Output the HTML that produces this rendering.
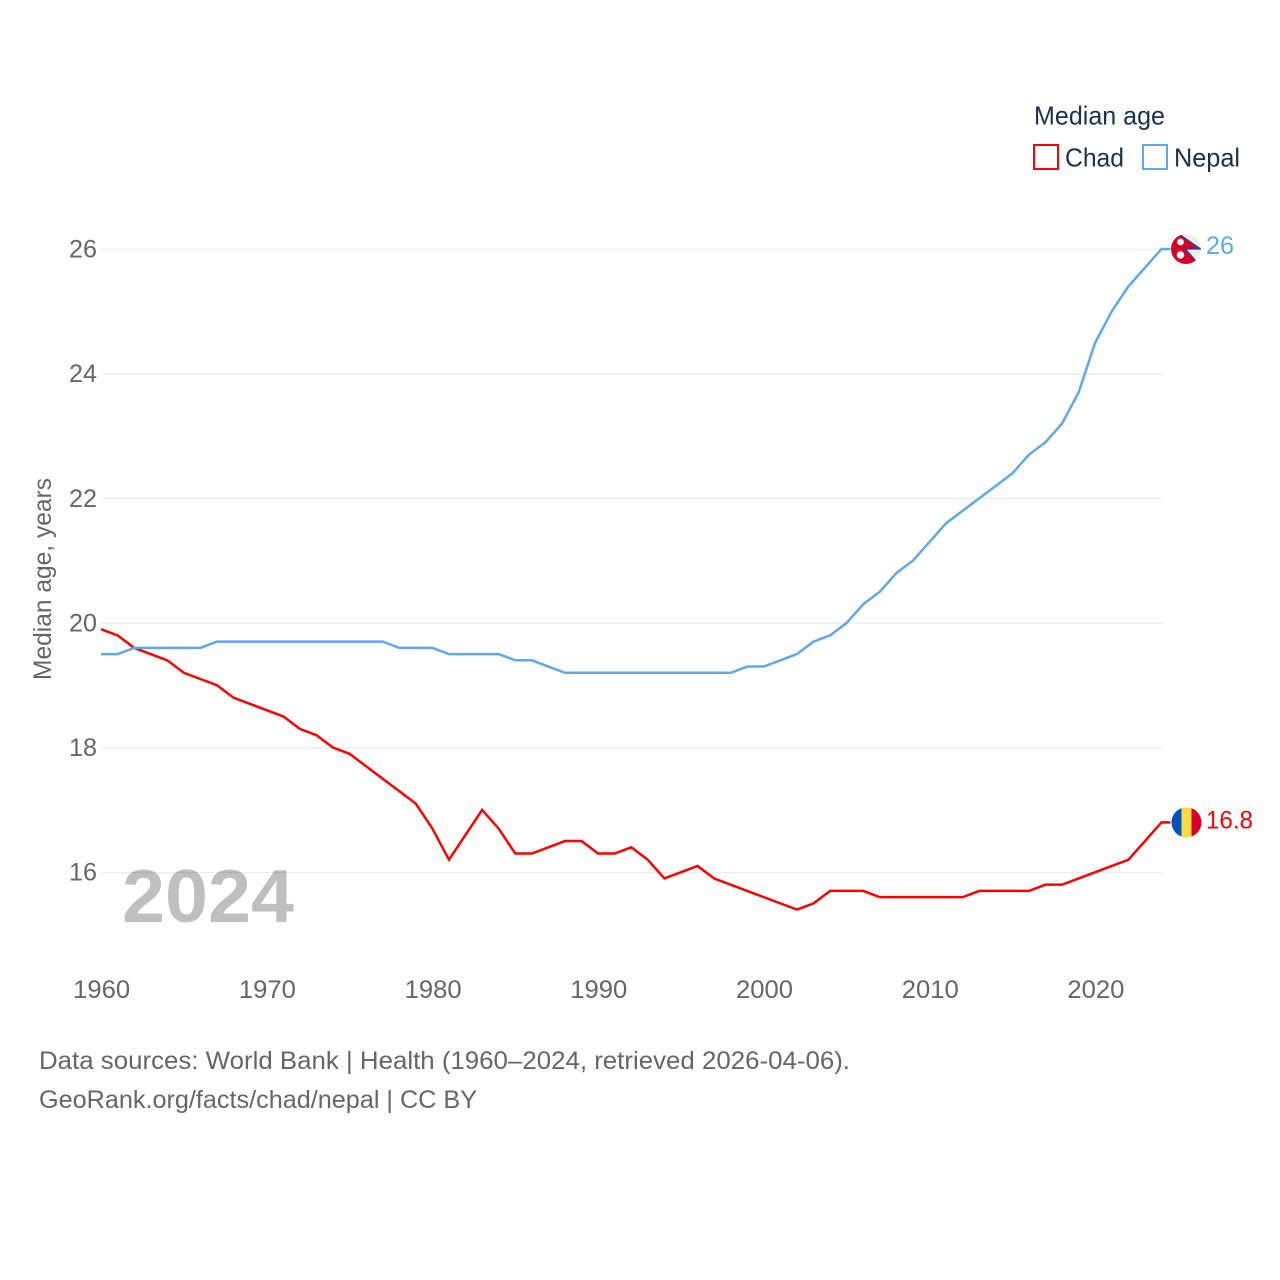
<!DOCTYPE html>
<html lang="en">
<head>
<meta charset="utf-8">
<title>Median age: Chad and Nepal</title>
<style>
html,body{margin:0;padding:0;background:#fff;width:1280px;height:1280px;overflow:hidden}
svg{display:block}
text{font-family:"Liberation Sans",sans-serif}
.tick{font-size:25px;fill:#666}
.legend{font-size:26px;fill:#1a3050}
.src{font-size:25px;fill:#666}
</style>
</head>
<body>
<svg id="chart" xmlns="http://www.w3.org/2000/svg" width="1280" height="1280" viewBox="0 0 1280 1280">
  <defs>
    <clipPath id="flag-clip"><circle cx="0" cy="0" r="15"></circle></clipPath>
  </defs>
  <g id="grid"></g>
  <text x="122" y="922" font-size="75" font-weight="700" fill="#000" fill-opacity="0.25" textLength="172" lengthAdjust="spacingAndGlyphs">2024</text>
  <g id="y-axis"></g>
  <g id="x-axis"></g>
  <text class="tick" transform="translate(51,680) rotate(-90)" textLength="202" lengthAdjust="spacingAndGlyphs">Median age, years</text>
  <g id="series"></g>
  <g id="ends"></g>

  <g>
    <text class="legend" x="1034" y="124.5" textLength="131" lengthAdjust="spacingAndGlyphs">Median age</text>
    <g>
      <rect x="1034" y="145" width="24" height="24" fill="#fff" stroke="#ff0000" stroke-width="2"></rect>
      <text class="legend" x="1065" y="166.5" textLength="59" lengthAdjust="spacingAndGlyphs">Chad</text>
    </g>
    <g>
      <rect x="1143" y="145" width="24" height="24" fill="#fff" stroke="#5fa8ee" stroke-width="2"></rect>
      <text class="legend" x="1174" y="166.5" textLength="66" lengthAdjust="spacingAndGlyphs">Nepal</text>
    </g>
  </g>

  <g>
    <text class="src" x="39" y="1069" textLength="811" lengthAdjust="spacingAndGlyphs">Data sources: World Bank | Health (1960–2024, retrieved 2026-04-06).</text>
    <text class="src" x="39" y="1108" textLength="438" lengthAdjust="spacingAndGlyphs">GeoRank.org/facts/chad/nepal | CC BY</text>
  </g>
</svg>
<script>
const startYear = 1960;
const xTickYears = [1960, 1970, 1980, 1990, 2000, 2010, 2020];
const yTickValues = [16, 18, 20, 22, 24, 26];
const chadValues = [19.9,19.8,19.6,19.5,19.4,19.2,19.1,19.0,18.8,18.7,18.6,18.5,18.3,18.2,18.0,17.9,17.7,17.5,17.3,17.1,16.7,16.2,16.6,17.0,16.7,16.3,16.3,16.4,16.5,16.5,16.3,16.3,16.4,16.2,15.9,16.0,16.1,15.9,15.8,15.7,15.6,15.5,15.4,15.5,15.7,15.7,15.7,15.6,15.6,15.6,15.6,15.6,15.6,15.7,15.7,15.7,15.7,15.8,15.8,15.9,16.0,16.1,16.2,16.5,16.8];
const nepalValues = [19.5,19.5,19.6,19.6,19.6,19.6,19.6,19.7,19.7,19.7,19.7,19.7,19.7,19.7,19.7,19.7,19.7,19.7,19.6,19.6,19.6,19.5,19.5,19.5,19.5,19.4,19.4,19.3,19.2,19.2,19.2,19.2,19.2,19.2,19.2,19.2,19.2,19.2,19.2,19.3,19.3,19.4,19.5,19.7,19.8,20.0,20.3,20.5,20.8,21.0,21.3,21.6,21.8,22.0,22.2,22.4,22.7,22.9,23.2,23.7,24.5,25.0,25.4,25.7,26.0];
const chadLabel = "16.8";
const nepalLabel = "26";

const NS = "http://www.w3.org/2000/svg";
function xScale(year) { return 101 + (year - 1960) * (1161.5 - 101) / 64; }
function yScale(v) { return 872.2 - (v - 16) * (872.2 - 249) / 10; }
function make(tag, attrs, parent) {
  const el = document.createElementNS(NS, tag);
  for (const k in attrs) el.setAttribute(k, attrs[k]);
  parent.appendChild(el);
  return el;
}

const grid = document.getElementById("grid");
const yAxis = document.getElementById("y-axis");
const xAxis = document.getElementById("x-axis");
const seriesGroup = document.getElementById("series");
const ends = document.getElementById("ends");

yTickValues.forEach(function (v) {
  const line = make("line", {x1: 101.5, x2: 1162, y1: yScale(v) + 0.3, y2: yScale(v) + 0.3, stroke: "#ebebeb", "stroke-width": 1.3}, grid);
  
  
  const t = make("text", {class: "tick", x: 97, y: yScale(v) + 8.5, "text-anchor": "end", textLength: 28, lengthAdjust: "spacingAndGlyphs"}, yAxis);
  
  
  t.textContent = String(v);
});

xTickYears.forEach(function (yr) {
  const t = make("text", {class: "tick", x: xScale(yr) + 0.7, y: 998, "text-anchor": "middle", textLength: 57, lengthAdjust: "spacingAndGlyphs"}, xAxis);
  
  
  t.textContent = String(yr);
});

function linePoints(values) {
  const pts = values.map(function (v, i) { return xScale(startYear + i).toFixed(2) + "," + yScale(v).toFixed(2); });
  const last = values[values.length - 1];
  pts.push((xScale(startYear + values.length - 1) + 9).toFixed(2) + "," + yScale(last).toFixed(2));
  return pts.join(" ");
}

const chadLine = make("polyline", {points: linePoints(chadValues), fill: "none", stroke: "#ff0000", "stroke-width": 2.5, "stroke-linejoin": "miter"}, seriesGroup);


const nepalLine = make("polyline", {points: linePoints(nepalValues), fill: "none", stroke: "#5fa8ee", "stroke-width": 2.5, "stroke-linejoin": "miter"}, seriesGroup);



/* Chad flag */
const chadY = yScale(chadValues[chadValues.length - 1]);
const chadFlag = make("g", {transform: "translate(1186.5," + chadY + ")", "clip-path": "url(#flag-clip)"}, ends);


make("rect", {x: -15, y: -15, width: 10, height: 30, fill: "#0052b4"}, chadFlag);
make("rect", {x: -5, y: -15, width: 10, height: 30, fill: "#ffda44"}, chadFlag);
make("rect", {x: 5, y: -15, width: 10, height: 30, fill: "#d80027"}, chadFlag);
const chadValueText = make("text", {x: 1206, y: chadY + 6, "font-size": 25, fill: "#ff0000", textLength: 47, lengthAdjust: "spacingAndGlyphs"}, ends);


chadValueText.textContent = chadLabel;

/* Nepal flag */
const nepalY = yScale(nepalValues[nepalValues.length - 1]);
const nepalFlag = make("g", {transform: "translate(1186," + nepalY + ")", "clip-path": "url(#flag-clip)"}, ends);


make("circle", {cx: 0, cy: 0, r: 15, fill: "#eeeeee"}, nepalFlag);
make("polygon", {points: "-20,-24 14.5,0 -0.5,0 11.5,14 11.5,24 -20,24", fill: "#d80027", stroke: "#0b4ea2", "stroke-width": 1.3}, nepalFlag);
make("circle", {cx: -5.5, cy: -7, r: 3.4, fill: "#f5f5f5"}, nepalFlag);
make("circle", {cx: -5.5, cy: 6, r: 3.8, fill: "#f5f5f5"}, nepalFlag);
const nepalValueText = make("text", {x: 1206, y: nepalY + 5, "font-size": 25, fill: "#5fa8ee", textLength: 28, lengthAdjust: "spacingAndGlyphs"}, ends);


nepalValueText.textContent = nepalLabel;
</script>
</body>
</html>
